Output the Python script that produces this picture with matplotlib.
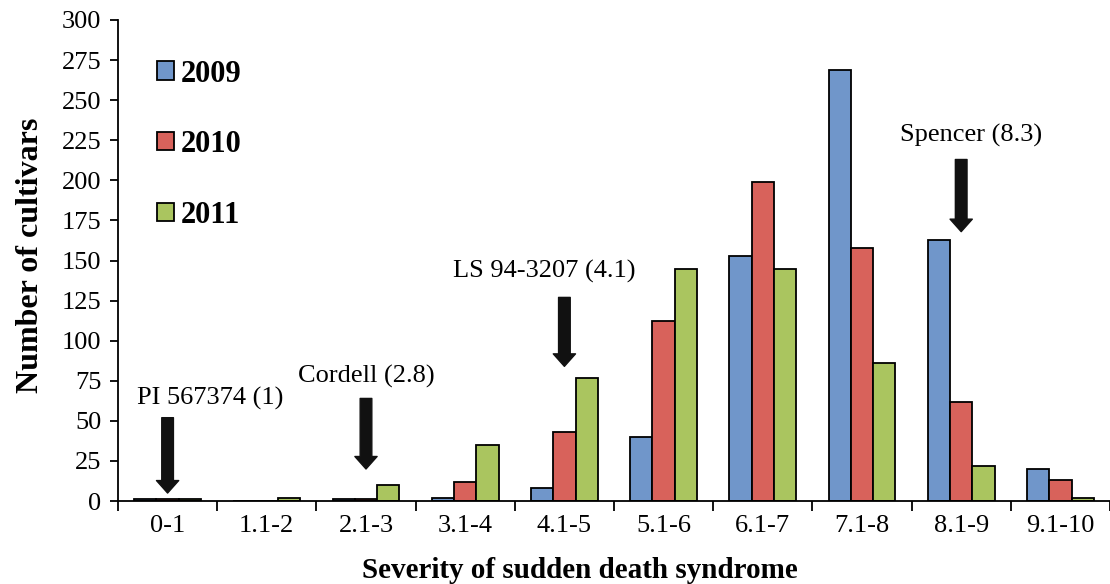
import matplotlib.pyplot as plt
import numpy as np

plt.rcParams['font.family'] = ['Liberation Serif', 'DejaVu Serif']

# Data
categories = ['0-1', '1.1-2', '2.1-3', '3.1-4', '4.1-5', '5.1-6', '6.1-7', '7.1-8', '8.1-9', '9.1-10']
years = ['2009', '2010', '2011']
counts_2009 = [1, 0, 1, 2, 8, 40, 153, 269, 163, 20]
counts_2010 = [1, 0, 1, 12, 43, 112, 199, 158, 62, 13]
counts_2011 = [1, 2, 10, 35, 77, 145, 145, 86, 22, 2]
colors = ['#7096ca', '#d8625b', '#aac55f']

# Marked cultivars: label, category index
marks = ['PI 567374 (1)', 'Cordell (2.8)', 'LS 94-3207 (4.1)', 'Spencer (8.3)']
mark_cat = [0, 2, 4, 8]
mark_top = [52, 64, 127, 213]
mark_tip = [5, 20, 84, 168]
mark_text_x = [0.43, 2.0, 3.8, 8.1]
mark_text_y = [64, 78, 143, 228]

fig = plt.figure(figsize=(11.1, 5.84), dpi=100)
ax = fig.add_axes([0.1063, 0.142, 0.8937, 0.8238])

x = np.arange(len(categories))
w = 0.225
for i, (vals, yr) in enumerate(zip([counts_2009, counts_2010, counts_2011], years)):
    ax.bar(x + (i - 1) * w, vals, w, color=colors[i], edgecolor='black',
           linewidth=1.3, label=yr)

for lab, c, top, tip, tx, ty in zip(marks, mark_cat, mark_top, mark_tip, mark_text_x, mark_text_y):
    ax.annotate('', xy=(c, tip), xytext=(c, top),
                arrowprops=dict(arrowstyle='simple,head_width=0.8,head_length=0.45,tail_width=0.42',
                                color='#111111', mutation_scale=20, shrinkA=0, shrinkB=0))
    ax.text(tx, ty, lab, ha='center', va='center', fontsize=19)

ax.set_xlim(-0.5, 9.4)
ax.set_ylim(0, 300)
ax.set_yticks(range(0, 301, 25))
ax.set_xticks(x)
ax.set_xticklabels(categories)
ax.set_xticks(np.arange(-0.5, 10, 1), minor=True)
ax.tick_params(axis='x', which='major', length=0, labelsize=19, pad=10)
ax.tick_params(axis='x', which='minor', length=7, width=1.3, direction='out')
ax.tick_params(axis='y', length=6, width=1.3, direction='out', labelsize=19, pad=6)

for s in ['top', 'right']:
    ax.spines[s].set_visible(False)
for s in ['left', 'bottom']:
    ax.spines[s].set_linewidth(1.3)

ax.set_ylabel('Number of cultivars', fontsize=23, fontweight='bold', va='center')
ax.yaxis.set_label_coords(-0.088, 0.51)
ax.set_xlabel('Severity of sudden death syndrome', fontsize=21, fontweight='bold', va='center')
ax.xaxis.set_label_coords(0.466, -0.145)

ax.legend(loc='upper left', bbox_to_anchor=(0.012, 0.975), frameon=False,
          prop={'size': 22, 'weight': 'bold'}, handlelength=0.55, handleheight=0.55,
          handletextpad=0.2, labelspacing=1.36)

plt.savefig('out.png', dpi=100)
